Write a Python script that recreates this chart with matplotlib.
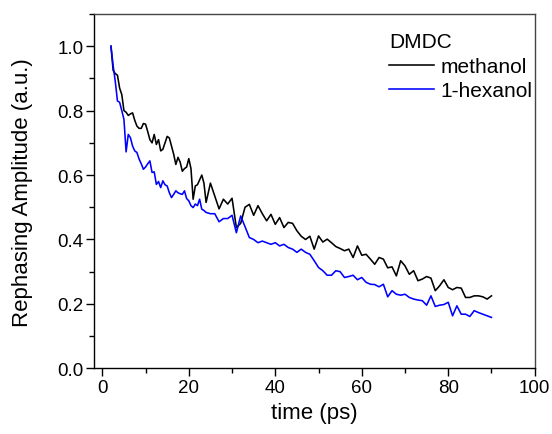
import numpy as np
import matplotlib
matplotlib.use('Agg')
import matplotlib.pyplot as plt
from matplotlib.ticker import MultipleLocator

plt.rcParams['font.family'] = ['Liberation Sans', 'DejaVu Sans']

# time axis (ps): half-ps steps early on, then 1 ps
time_ps = [2.0, 2.5, 3.0, 3.5, 4.0, 4.5, 5.0, 5.5, 6.0, 6.5, 7.0, 7.5, 8.0, 8.5,
           9.0, 9.5, 10.0, 10.5, 11.0, 11.5, 12.0, 12.5, 13.0, 13.5, 14.0, 14.5,
           15.0, 15.5, 16.0, 16.5, 17.0, 17.5, 18.0, 18.5, 19.0, 19.5, 20.0, 20.5,
           21.0, 21.5, 22.0, 22.5, 23.0, 23.5, 24.0,
           25, 26, 27, 28, 29, 30, 31, 32, 33, 34, 35, 36, 37, 38, 39, 40,
           41, 42, 43, 44, 45, 46, 47, 48, 49, 50, 51, 52, 53, 54, 55, 56,
           57, 58, 59, 60, 61, 62, 63, 64, 65, 66, 67, 68, 69, 70, 71, 72,
           73, 74, 75, 76, 77, 78, 79, 80, 81, 82, 83, 84, 85, 86, 87, 88,
           89, 90]

methanol = [1.00, 0.925, 0.915, 0.91, 0.87, 0.85, 0.80, 0.795, 0.785, 0.79,
            0.793, 0.77, 0.752, 0.745, 0.745, 0.76, 0.758, 0.735, 0.71, 0.70,
            0.726, 0.695, 0.71, 0.675, 0.68, 0.70, 0.72, 0.715, 0.69, 0.665,
            0.633, 0.655, 0.64, 0.612, 0.62, 0.625, 0.651, 0.62, 0.525, 0.566,
            0.57, 0.585, 0.60, 0.575, 0.515,
            0.575, 0.535, 0.495, 0.525, 0.51, 0.528, 0.437, 0.45, 0.50, 0.509,
            0.475, 0.505, 0.48, 0.458, 0.478, 0.447, 0.468, 0.437, 0.453, 0.45,
            0.427, 0.41, 0.40, 0.41, 0.37, 0.411, 0.392, 0.401, 0.39, 0.378,
            0.372, 0.365, 0.37, 0.344, 0.38, 0.351, 0.354, 0.339, 0.323, 0.344,
            0.339, 0.312, 0.315, 0.287, 0.334, 0.318, 0.292, 0.303, 0.272, 0.277,
            0.285, 0.28, 0.241, 0.256, 0.275, 0.251, 0.244, 0.251, 0.249, 0.22,
            0.22, 0.225, 0.225, 0.222, 0.215, 0.225]

hexanol = [1.00, 0.94, 0.89, 0.83, 0.826, 0.80, 0.773, 0.672, 0.726, 0.716,
           0.69, 0.675, 0.67, 0.65, 0.635, 0.618, 0.625, 0.635, 0.644, 0.608,
           0.61, 0.571, 0.58, 0.561, 0.582, 0.57, 0.566, 0.545, 0.53, 0.54,
           0.551, 0.545, 0.542, 0.54, 0.551, 0.527, 0.52, 0.505, 0.499, 0.51,
           0.505, 0.525, 0.494, 0.49, 0.484,
           0.48, 0.48, 0.455, 0.465, 0.465, 0.475, 0.421, 0.473, 0.44, 0.406,
           0.40, 0.39, 0.395, 0.39, 0.385, 0.39, 0.38, 0.385, 0.375, 0.37,
           0.36, 0.37, 0.36, 0.354, 0.334, 0.313, 0.303, 0.289, 0.289, 0.303,
           0.30, 0.282, 0.285, 0.289, 0.275, 0.282, 0.267, 0.261, 0.26, 0.253,
           0.261, 0.222, 0.241, 0.23, 0.227, 0.23, 0.22, 0.215, 0.212, 0.21,
           0.196, 0.225, 0.192, 0.196, 0.198, 0.205, 0.163, 0.194, 0.168, 0.168,
           0.161, 0.179, 0.173, 0.168, 0.163, 0.158]

fig = plt.figure(figsize=(5.52, 4.35), dpi=100)
ax = fig.add_axes([0.1697, 0.151, 0.799, 0.8145])

ax.plot(time_ps, methanol, color='black', lw=1.15, label='methanol')
ax.plot(time_ps, hexanol, color='#0000ff', lw=1.15, label='1-hexanol')

ax.set_xlim(-2, 100)
ax.set_ylim(0, 1.1)
ax.xaxis.set_major_locator(MultipleLocator(20))
ax.xaxis.set_minor_locator(MultipleLocator(10))
ax.yaxis.set_major_locator(MultipleLocator(0.2))
ax.yaxis.set_minor_locator(MultipleLocator(0.1))
ax.yaxis.set_major_formatter(matplotlib.ticker.FormatStrFormatter('%.1f'))

ax.tick_params(which='major', direction='out', length=5.5, width=1,
               labelsize=13.5, pad=2)
ax.tick_params(which='minor', direction='out', length=3.4, width=1)
ax.tick_params(top=False, right=False, which='both')
for s in ax.spines.values():
    s.set_linewidth(1.0)
for s in ['top', 'right']:
    ax.spines[s].set_color('#444444')

ax.set_xlabel('time (ps)', fontsize=16, labelpad=4.5)
ax.set_ylabel('Rephasing Amplitude (a.u.)', fontsize=16, labelpad=17)

leg = ax.legend(title='DMDC', loc='upper left', bbox_to_anchor=(0.67, 0.948),
                frameon=False, fontsize=15, title_fontsize=15,
                handlelength=2.15, handletextpad=0.3, borderaxespad=0,
                borderpad=0, labelspacing=0.26, alignment='left')

fig.savefig('out.png', dpi=100)
